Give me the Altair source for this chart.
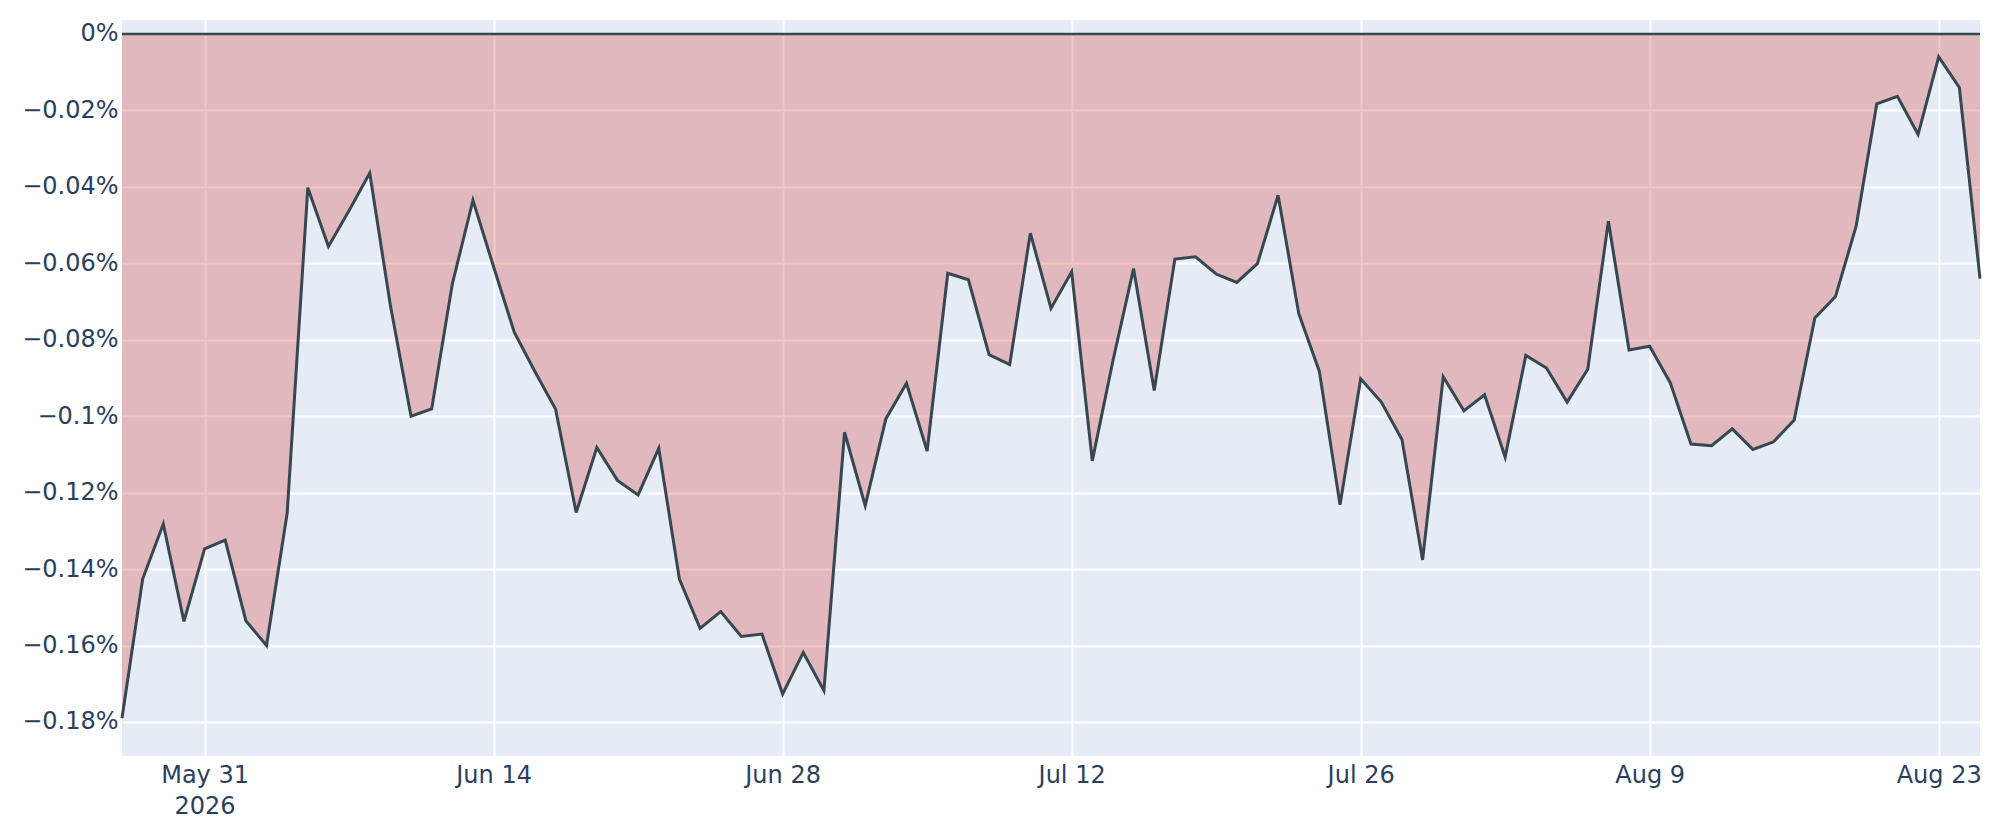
import altair as alt
import pandas as pd

# ---- data (drawdown in percent, daily from 2026-05-27) ----
start_date = "2026-05-27"
drawdown_pct = [
    -0.1790, -0.1426, -0.1282, -0.1537, -0.1347, -0.1324, -0.1535, -0.1600, -0.1254, -0.0402,
    -0.0556, -0.0462, -0.0364, -0.0710, -0.1000, -0.0981, -0.0654, -0.0435, -0.0609, -0.0780,
    -0.0883, -0.0981, -0.1252, -0.1082, -0.1168, -0.1206, -0.1084, -0.1426, -0.1555, -0.1511,
    -0.1576, -0.1570, -0.1727, -0.1618, -0.1718, -0.1042, -0.1234, -0.1007, -0.0914, -0.1091,
    -0.0626, -0.0643, -0.0839, -0.0865, -0.0521, -0.0718, -0.0622, -0.1117, -0.0855, -0.0614,
    -0.0933, -0.0589, -0.0583, -0.0628, -0.0650, -0.0601, -0.0422, -0.0731, -0.0883, -0.1232,
    -0.0902, -0.0963, -0.1061, -0.1376, -0.0897, -0.0986, -0.0944, -0.1107, -0.0841, -0.0874,
    -0.0963, -0.0877, -0.0490, -0.0827, -0.0817, -0.0913, -0.1073, -0.1077, -0.1033, -0.1087,
    -0.1067, -0.1010, -0.0743, -0.0687, -0.0503, -0.0183, -0.0163, -0.0263, -0.0060, -0.0140,
    -0.0640,
]
x_tick_dates = ["2026-05-31", "2026-06-14", "2026-06-28", "2026-07-12",
                "2026-07-26", "2026-08-09", "2026-08-23"]
y_tick_pct = [0, -0.02, -0.04, -0.06, -0.08, -0.10, -0.12, -0.14, -0.16, -0.18]
y_domain_pct = [-0.1889, 0.00366]

dates = pd.date_range(start_date, periods=len(drawdown_pct), freq="D")
df = pd.DataFrame({
    "date": dates.strftime("%Y-%m-%d"),
    "dd": [v / 100 for v in drawdown_pct],
})
zero_df = pd.DataFrame({"z": [0.0]})

FONT = "DejaVu Sans"
TXT = "#2a3f5f"
LINE = "#37474f"


def to_dt(s):
    y, m, d = (int(p) for p in s.split("-"))
    return alt.DateTime(year=y, month=m, date=d, utc=True)


x_enc = alt.X(
    "date:T",
    scale=alt.Scale(type="utc", domain=[to_dt(df["date"].iloc[0]), to_dt(df["date"].iloc[-1])], nice=False),
    axis=alt.Axis(
        values=[to_dt(s) for s in x_tick_dates],
        labelExpr="utcFormat(datum.value, '%m-%d') == '" + x_tick_dates[0][5:] + "' ? "
                  "[utcFormat(datum.value, '%b %-d'), utcFormat(datum.value, '%Y')] : "
                  "utcFormat(datum.value, '%b %-d')",
        labelPadding=7,
        labelLineHeight=31,
        labelBaseline="top",
        title=None,
    ),
)
y_scale = alt.Scale(domain=[v / 100 for v in y_domain_pct], nice=False, zero=False)
y_axis = alt.Axis(
    values=[v / 100 for v in y_tick_pct],
    format=".2~%",
    labelPadding=4,
    title=None,
)

area = alt.Chart(df).mark_area(color="#d8403c", opacity=0.3, line=False).encode(
    x=x_enc,
    y=alt.Y("dd:Q", scale=y_scale, axis=y_axis),
    y2=alt.datum(0),
)
line = alt.Chart(df).mark_line(color=LINE, strokeWidth=3).encode(
    x=x_enc,
    y=alt.Y("dd:Q", scale=y_scale, axis=y_axis),
)
zero = alt.Chart(zero_df).mark_rule(color=LINE, strokeWidth=2.5).encode(
    y=alt.Y("z:Q", scale=y_scale, axis=y_axis),
)

chart = (
    alt.layer(area, zero, line)
    .properties(
        width=1858,
        height=736,
        autosize=alt.AutoSizeParams(type="none"),
        padding={"left": 114, "top": 12, "right": 12, "bottom": 76},
        background="white",
    )
    .configure_view(fill="#E5ECF6", stroke=None)
    .configure_axis(
        labelFont=FONT,
        labelFontSize=24,
        labelColor=TXT,
        gridColor="white",
        gridWidth=2,
        gridOpacity=1,
        domain=False,
        ticks=False,
        tickSize=0,
    )
)

chart.save("out.html", embed_options={"renderer": "svg", "actions": False})
